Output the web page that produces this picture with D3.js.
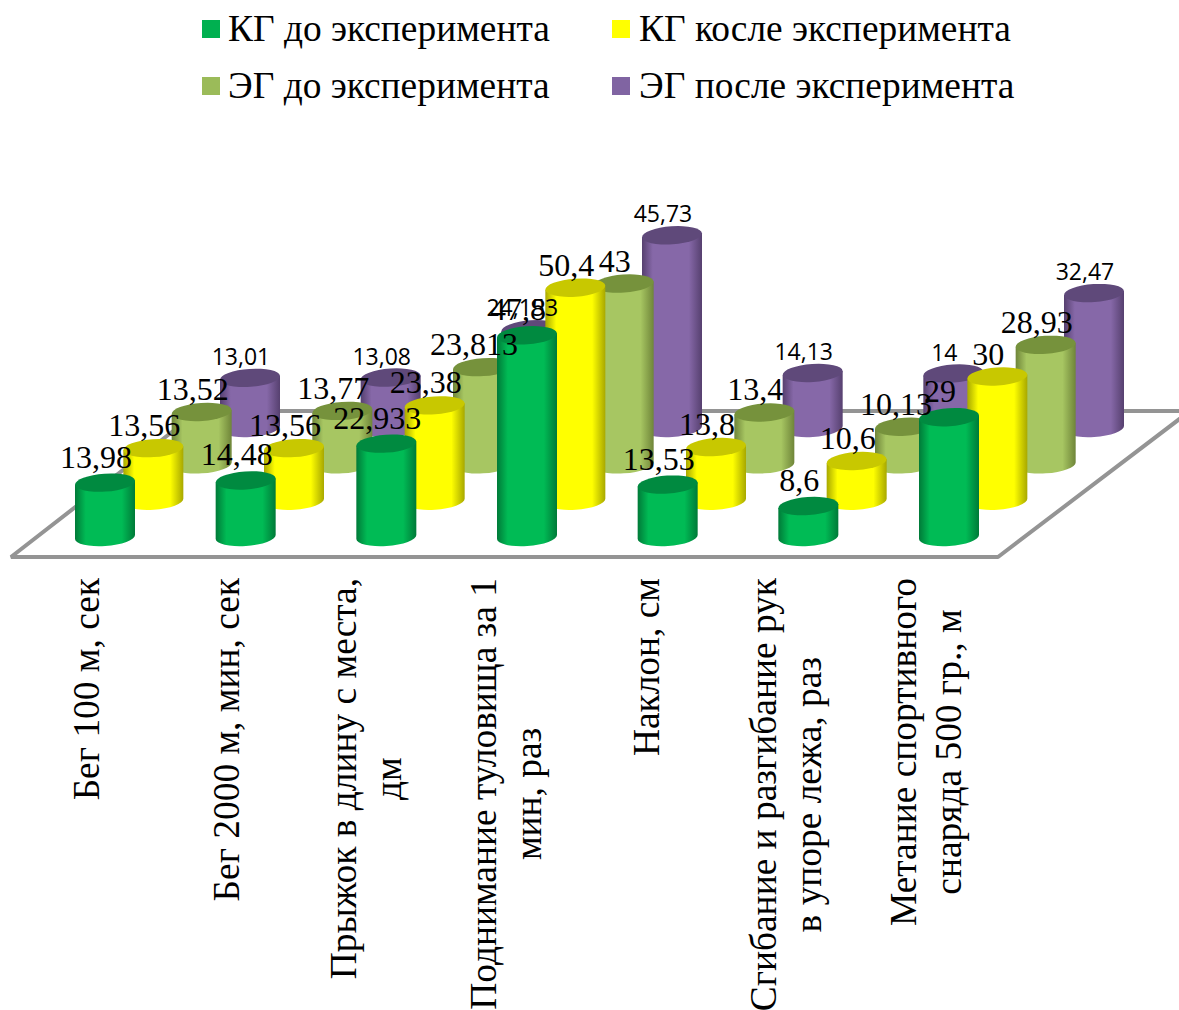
<!DOCTYPE html>
<html lang="ru">
<head>
<meta charset="utf-8">
<title>Результаты эксперимента</title>
<script src="https://cdnjs.cloudflare.com/ajax/libs/d3/7.8.5/d3.min.js"></script>
<style>
  html, body { margin: 0; padding: 0; background: #fff; }
  svg { display: block; }
  .serif { font-family: "Liberation Serif", serif; fill: #000; }
  .sans { font-family: "Open Sans", sans-serif; fill: #000; }
</style>
</head>
<body>
<svg id="chart" width="1179" height="1010"></svg>
<script>
// Multi-line category captions, read along the rotated axis.
const categories = [
  ["Бег 100 м, сек"],
  ["Бег 2000 м, мин, сек"],
  ["Прыжок в длину с места,", "дм"],
  ["Поднимание туловища за 1", "мин, раз"],
  ["Наклон, см"],
  ["Сгибание и разгибание рук", "в упоре лежа, раз"],
  ["Метание спортивного", "снаряда 500 гр., м"]
];

const seriesNames = ["КГ до эксперимента", "КГ косле эксперимента", "ЭГ до эксперимента", "ЭГ после эксперимента"];

const kgBefore = [13.98, 14.48, 22.933, 47.8, 13.53, 8.6, 29];
const kgAfter = [13.56, 13.56, 23.38, 50.4, 13.8, 10.6, 30];
const egBefore = [13.52, 13.77, 23.813, 43, 13.4, 10.13, 28.93];
const egAfter = [13.01, 13.08, 24.153, 45.73, 14.13, 14, 32.47];

const seriesValues = [kgBefore, kgAfter, egBefore, egAfter];

// Decimal comma, original precision kept.
const fmt = v => String(v).replace(".", ",");

const palette = [
  { key: "#00b050", base: "#00bb55", edge: "#007a38", top: "#008a40" },
  { key: "#ffff00", base: "#ffff00", edge: "#a8a800", top: "#c8c800" },
  { key: "#9bbb59", base: "#a7c662", edge: "#6f8539", top: "#76923c" },
  { key: "#8064a2", base: "#8668a8", edge: "#56406f", top: "#5f497a" }
];

const svg = d3.select("#chart");
const defs = svg.append("defs");

palette.forEach((c, i) => {
  const g = defs.append("linearGradient").attr("id", "side" + i)
    .attr("x1", 0).attr("x2", 1).attr("y1", 0).attr("y2", 0);
  g.append("stop").attr("offset", "0%").attr("stop-color", c.edge);
  g.append("stop").attr("offset", "18%").attr("stop-color", c.base);
  g.append("stop").attr("offset", "78%").attr("stop-color", c.base);
  g.append("stop").attr("offset", "100%").attr("stop-color", c.edge);
});

// Oblique projection: categories spread along x, series recede up and to the right.
const xCat = d3.scalePoint().domain(d3.range(categories.length)).range([105, 949]);
const xDepth = d3.scalePoint().domain(d3.range(seriesNames.length)).range([0, 145]);
const yDepth = d3.scalePoint().domain(d3.range(seriesNames.length)).range([537, 428]);
const barHeight = d3.scaleLinear().domain([1.5, 50.4]).range([0, 213]);

const rx = 30, ry = 9, tilt = 2;

// Floor of the 3D plot.
svg.append("path")
  .attr("d", "M11,557 L998,557 L1190,411 L199,411 Z")
  .attr("fill", "#fff")
  .attr("stroke", "#949494")
  .attr("stroke-width", 4)
  .attr("stroke-linejoin", "bevel");

// Cylinders, back row first so nearer rows overlap it.
for (let s = seriesNames.length - 1; s >= 0; s--) {
  const row = svg.append("g").attr("class", "row");
  const cells = row.selectAll("g").data(seriesValues[s]).join("g");
  cells.append("path")
    .attr("fill", `url(#side${s})`)
    .attr("d", (v, i) => {
      const cx = xCat(i) + xDepth(s), y0 = yDepth(s), y1 = y0 - barHeight(v);
      return `M${cx - rx},${y1 + tilt} L${cx - rx},${y0 + tilt}` +
        `A${rx},${ry} -4 0 0 ${cx + rx},${y0 - tilt} L${cx + rx},${y1 - tilt} Z`;
    });
  cells.append("ellipse")
    .attr("rx", rx).attr("ry", ry)
    .attr("fill", palette[s].top)
    .attr("transform", (v, i) => {
      const cx = xCat(i) + xDepth(s), y1 = yDepth(s) - barHeight(v);
      return `translate(${cx},${y1}) rotate(-4)`;
    });
}

// Value labels sit above everything; the last series uses a sans face.
seriesNames.forEach((_, s) => {
  svg.append("g").selectAll("text").data(seriesValues[s]).join("text")
    .attr("class", s === 3 ? "sans" : "serif")
    .attr("font-size", s === 3 ? 23 : 32)
    .attr("text-anchor", "middle")
    .attr("x", (v, i) => xCat(i) + xDepth(s) - 9)
    .attr("y", v => yDepth(s) - barHeight(v) - (s === 0 ? 15 : s === 3 ? 13 : 12))
    .text(fmt);
});

// Rotated category captions, anchored at the floor edge and centred line by line.
const captionTop = 578;
const lineGap = 45;
const captionCentreX = [88, 228, 345, 485, 648, 765, 905];
const capG = svg.append("g");
categories.forEach((lines, i) => {
  const group = capG.append("g")
    .attr("transform", `translate(${captionCentreX[i]},${captionTop}) rotate(-90)`);
  const text = group.selectAll("text").data(lines).join("text")
    .attr("class", "serif")
    .attr("font-size", 37.4)
    .attr("text-anchor", "middle")
    .attr("y", (d, k) => 11 + k * lineGap)
    .text(d => d);
  const longest = d3.max(text.nodes(), n => n.getComputedTextLength());
  text.attr("x", -longest / 2);
});

// Legend in two rows and two columns.
const legendX = [202, 612];
const legendY = [20, 77];
const legend = svg.append("g").selectAll("g").data(seriesNames).join("g")
  .attr("transform", (d, i) => `translate(${legendX[i % 2]},${legendY[Math.floor(i / 2)]})`);
legend.append("rect").attr("width", 18).attr("height", 18)
  .attr("fill", (d, i) => palette[i].key);
legend.append("text").attr("class", "serif")
  .attr("font-size", 37.4).attr("x", (d, i) => i % 2 ? 27 : 26).attr("y", 21)
  .text(d => d);
</script>
</body>
</html>
